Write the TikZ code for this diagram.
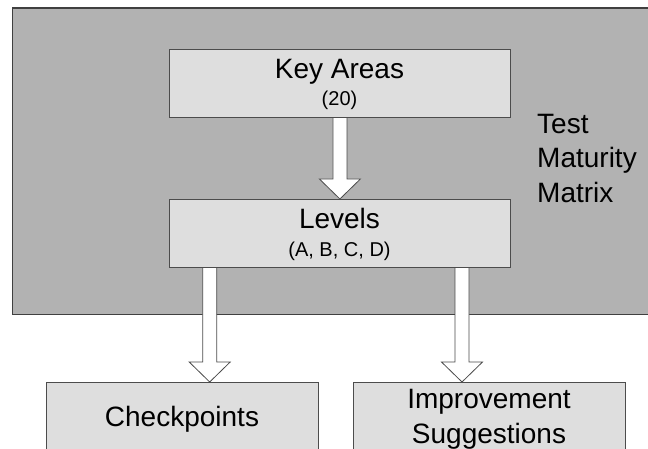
\documentclass[tikz,border=0pt]{standalone}
\usepackage{fontspec}
\setmainfont{Liberation Sans}
\usetikzlibrary{calc}

% hollow block arrow from a start point to a tip point (vertical)
\newcommand\blockarrow[2]{%
  \draw[hollowarrow] ($(#1)+(-7,0)$) -- ($(#2)+(-7,-20)$) -- ($(#2)+(-20.5,-20)$)
    -- (#2) -- ($(#2)+(20.5,-20)$) -- ($(#2)+(7,-20)$) -- ($(#1)+(7,0)$);}

\begin{document}
\begin{tikzpicture}[x=1pt,y=-1pt,
  frame/.style={draw=black!75, line width=1.3pt, fill=black!30, inner sep=0pt, anchor=north west},
  box/.style={draw=black!70, line width=0.8pt, fill=black!13, inner sep=0pt, anchor=north west},
  big/.style={font=\fontsize{28}{34.5}\selectfont, inner sep=0pt},
  small/.style={font=\fontsize{20}{24}\selectfont, inner sep=0pt, anchor=base},
  hollowarrow/.style={draw=black!70, line width=0.8pt, fill=white, line join=miter}]
\clip (0,0) rectangle (648,449);
\fill[white] (0,0) rectangle (648,449);

% outer area
\node[frame, minimum width=660pt, minimum height=306.5pt] (tmm) at (11.7,7.3) {};
\node[big, anchor=base west, align=left] (tmmlabel) at (537,202.3) {Test\\Maturity\\Matrix};

% connector end points
\coordinate (s1) at (209.7,267);
\coordinate (s2) at (462,267);

% boxes (placed first so the arrows can refer to them)
\path
  node[box, minimum width=341pt, minimum height=68pt] (ka) at (169,49) {}
  node[box, minimum width=341pt, minimum height=68pt] (lv) at (169,199) {}
  node[box, minimum width=272.5pt, minimum height=90pt] (chk) at (45.5,382) {}
  node[box, minimum width=272.5pt, minimum height=90pt] (imp) at (352.5,382) {};
\coordinate (e1) at (chk.north -| s1);
\coordinate (e2) at (imp.north -| s2);

% arrows
\blockarrow{ka.south}{lv.north}
\blockarrow{s1}{e1}
\blockarrow{s2}{e2}

% boxes redrawn on top of the arrow tails
\node[box, minimum width=341pt, minimum height=68pt] at (169,49) {};
\node[box, minimum width=341pt, minimum height=68pt] at (169,199) {};

% texts
\node[big, anchor=base] (katext) at (339.5,79) {Key Areas};
\node[small] (kanum) at (339.5,106) {(20)};
\node[big, anchor=base] (lvtext) at (339.5,229) {Levels};
\node[small] (lvlist) at (339.5,256) {(A, B, C, D)};
\node[big, anchor=base] (chktext) at (182,426) {Checkpoints};
\node[big, anchor=base] (imptext1) at (489,408) {Improvement};
\node[big, anchor=base] (imptext2) at (489,443.5) {Suggestions};
\end{tikzpicture}
\end{document}
